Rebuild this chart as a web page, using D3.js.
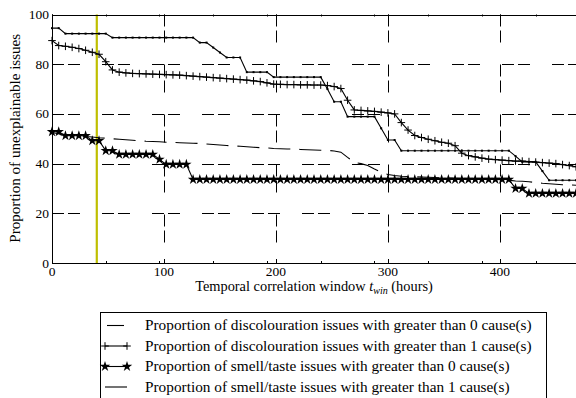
<!DOCTYPE html>
<html>
<head>
<meta charset="utf-8">
<script src="https://cdn.jsdelivr.net/npm/d3@7/dist/d3.min.js"></script>
<style>
  body { margin: 0; background: #fff; }
  svg { display: block; }
  text { font-family: "Liberation Serif", "DejaVu Serif", serif; fill: #000; }
</style>
</head>
<body>
<svg width="576" height="398"></svg>
<script>
// sample times (hours)
const hours = [0,6,12,18,24,30,36,42,48,54,60,66,72,78,84,90,96,102,108,114,120,126,132,138,144,150,156,162,168,174,180,186,192,198,204,210,216,222,228,234,240,246,252,258,264,270,276,282,288,294,300,306,312,318,324,330,336,342,348,354,360,366,372,378,384,390,396,402,408,414,420,426,432,438,444,450,456,462,468];

// discolouration, > 0 cause(s)
const discol0 = [52.5,52,51.7,51.4,51.1,50.9,50.7,50.4,50.2,50,49.8,49.6,49.4,49.2,49,48.9,48.8,48.6,48.5,48.4,48.3,48.2,48.1,47.9,47.7,47.5,47.3,47.1,47,46.8,46.6,46.4,46.3,46.1,46,45.9,45.8,45.7,45.6,45.5,45.4,45.3,45.1,44.6,42.5,40.5,40,39.2,37.8,36.5,35.6,35.2,34.9,34.8,34.7,34.6,34.5,34.4,34.3,34.2,34.1,34,34,33.9,33.8,33.7,33.6,33.5,33.3,33,32.9,32.7,32.4,32.1,31.9,31.7,31.5,31.4,31.3];

// discolouration, > 1 cause(s)
const discol1 = [89.5,87.5,87.2,86.8,86.3,85.6,84.8,84,81,77.7,76.8,76.5,76.3,76.2,76.1,76,75.9,75.8,75.7,75.6,75.4,75.2,75,74.8,74.6,74.4,74.2,74,73.8,73.6,73.3,73,72.5,72,71.9,71.8,71.8,71.7,71.7,71.6,71.6,71.4,71,70.2,65.5,61.6,61.4,61.2,61,60.7,60.4,60,56.5,53.5,51.3,50.5,49.8,49.2,48.6,48.2,47.2,44.2,43.2,42.7,42.2,41.8,41.6,41.4,41.2,41,41,40.8,40.6,40.4,40.2,40,39.6,39.2,38.7];

// smell/taste, > 0 cause(s)
const smell0 = [52.8,52.8,51.2,51.2,51.2,51.2,49.2,49.2,45.2,45.2,43.7,43.7,43.7,43.7,43.7,43.7,41.7,39.7,39.7,39.7,39.7,33.6,33.6,33.6,33.6,33.6,33.6,33.6,33.6,33.6,33.6,33.6,33.6,33.6,33.6,33.6,33.6,33.6,33.6,33.6,33.6,33.6,33.6,33.6,33.6,33.6,33.6,33.6,33.6,33.6,33.6,33.6,33.6,33.6,33.6,33.6,33.6,33.6,33.6,33.6,33.6,33.6,33.6,33.6,33.6,33.6,33.6,33.6,33.6,30,30,28,28,28,28,28,28,28,28];

// smell/taste, > 1 cause(s)
const smell1 = [94.5,94.5,92.3,92.3,92.3,92.3,92.3,92.3,92.3,90.7,90.7,90.7,90.7,90.7,90.7,90.7,90.7,90.7,90.7,90.7,90.7,90.7,88.7,88.7,86.7,84.7,82.7,82.7,82.7,76.8,76.8,76.8,76.8,74.8,74.8,74.8,74.8,74.8,74.8,74.8,74.8,70,64.9,64.9,58.9,58.9,58.9,58.9,58.9,54.2,49.5,49.5,45.2,45.2,45.2,45.2,45.2,45.2,45.2,45.2,45.2,45.2,45.2,45.2,45.2,45.2,45.2,45.2,45.2,43,40.7,40.7,40.7,37,33.3,33.3,33.3,33.3,33.3];

const xTicks = [0, 100, 200, 300, 400];
const xMinorTicks = [0, 48, 96, 144, 192, 240, 288, 336, 384, 432];
const yTicks = [0, 20, 40, 60, 80, 100];
const windowMark = 40;

const legendLabels = [
  "Proportion of discolouration issues with greater than 0 cause(s)",
  "Proportion of discolouration issues with greater than 1 cause(s)",
  "Proportion of smell/taste issues with greater than 0 cause(s)",
  "Proportion of smell/taste issues with greater than 1 cause(s)"
];

const series = [
  { values: discol0, dash: "22,9", marker: null },
  { values: discol1, dash: null, marker: "plus" },
  { values: smell0, dash: null, marker: "star" },
  { values: smell1, dash: null, marker: "dot" }
];

const svg = d3.select("svg");
const plotL = 52, plotR = 576, plotT = 14.5, plotB = 263;

const x = d3.scaleLinear().domain([0, 468]).range([plotL, plotR]);
const y = d3.scaleLinear().domain([0, 100]).range([plotB, plotT]);

// scale a text's font so that it spans the width seen in the figure
function fitWidth(sel, base, target) {
  const w = sel.node().getComputedTextLength();
  const fs = base * target / w;
  sel.attr("font-size", fs);
  return fs;
}

// grid
const grid = svg.append("g").attr("stroke", "#000").attr("stroke-width", 1)
  .attr("stroke-dasharray", "12,4,12,22").attr("fill", "none");
grid.selectAll(".gx").data(xTicks.slice(1)).enter().append("line")
  .attr("x1", d => Math.round(x(d)) + 0.5).attr("x2", d => Math.round(x(d)) + 0.5)
  .attr("y1", plotT).attr("y2", plotB);
grid.selectAll(".gy").data(yTicks.slice(1, -1)).enter().append("line")
  .attr("y1", d => Math.round(y(d)) + 0.5).attr("y2", d => Math.round(y(d)) + 0.5)
  .attr("x1", plotL).attr("x2", plotR);

// vertical marker for chosen window
svg.append("line")
  .attr("x1", x(windowMark)).attr("x2", x(windowMark))
  .attr("y1", plotT).attr("y2", plotB)
  .attr("stroke", "#bfbf00").attr("stroke-width", 2.2);

// series
const line = d3.line().x((d, i) => x(hours[i])).y(d => y(d));
const starPath = d3.symbol().type(d3.symbolStar).size(34)();

function drawMarker(g, type) {
  if (type === "plus") {
    g.append("path").attr("d", "M-3.8,0H3.8M0,-3.8V3.8")
      .attr("stroke", "#000").attr("stroke-width", 1).attr("fill", "none");
  } else if (type === "star") {
    g.append("path").attr("d", starPath).attr("fill", "#000");
  } else if (type === "dot") {
    g.append("rect").attr("x", -1).attr("y", -1).attr("width", 2).attr("height", 2).attr("fill", "#000");
  }
}

series.forEach(s => {
  svg.append("path")
    .datum(s.values)
    .attr("d", line)
    .attr("fill", "none")
    .attr("stroke", "#000")
    .attr("stroke-width", 1.1)
    .attr("stroke-dasharray", s.dash);
  if (s.marker) {
    svg.append("g").selectAll("g").data(s.values).enter().append("g")
      .attr("transform", (d, i) => `translate(${x(hours[i])},${y(d)})`)
      .each(function() { drawMarker(d3.select(this), s.marker); });
  }
});

// frame and ticks
const frame = svg.append("g").attr("stroke", "#000").attr("stroke-width", 1).attr("fill", "none");
frame.append("line").attr("x1", plotL + 0.5).attr("x2", plotL + 0.5).attr("y1", plotT).attr("y2", plotB);
frame.append("line").attr("x1", plotL).attr("x2", plotR).attr("y1", Math.round(plotT) + 0.5).attr("y2", Math.round(plotT) + 0.5);
frame.append("line").attr("x1", plotL).attr("x2", plotR).attr("y1", Math.round(plotB) + 0.5).attr("y2", Math.round(plotB) + 0.5);

xTicks.forEach(t => {
  const px = Math.round(x(t)) + 0.5;
  frame.append("line").attr("x1", px).attr("x2", px).attr("y1", plotB).attr("y2", plotB - 4);
  frame.append("line").attr("x1", px).attr("x2", px).attr("y1", plotT).attr("y2", plotT + 4);
});
xMinorTicks.forEach(t => {
  const px = Math.round(x(t)) + 0.5;
  frame.append("line").attr("x1", px).attr("x2", px).attr("y1", plotB).attr("y2", plotB - 2);
  frame.append("line").attr("x1", px).attr("x2", px).attr("y1", plotT).attr("y2", plotT + 2);
});
yTicks.forEach(t => {
  const py = Math.round(y(t)) + 0.5;
  frame.append("line").attr("x1", plotL).attr("x2", plotL + 4).attr("y1", py).attr("y2", py);
});

// tick labels
svg.append("g").selectAll("text").data(xTicks).enter().append("text")
  .attr("x", d => x(d)).attr("y", 276)
  .attr("text-anchor", "middle").attr("font-size", 13.5)
  .text(d => d);
svg.append("g").selectAll("text").data(yTicks).enter().append("text")
  .attr("x", 49).attr("y", d => y(d) + 4.5)
  .attr("text-anchor", "end").attr("font-size", 13.5)
  .text(d => d);

// axis titles
const xl = svg.append("text").attr("x", 314).attr("y", 291)
  .attr("text-anchor", "middle").attr("font-size", 13.5);
xl.append("tspan").text("Temporal correlation window ");
xl.append("tspan").attr("font-style", "italic").text("t");
const sub = xl.append("tspan").attr("font-style", "italic").attr("font-size", 9.5).attr("dy", 2.5).text("win");
xl.append("tspan").attr("dy", -2.5).text(" (hours)");
const xfs = fitWidth(xl, 13.5, 238);
sub.attr("font-size", xfs * 0.7);

const yl = svg.append("text")
  .attr("transform", `translate(20,${(plotT + plotB) / 2 - 0.5}) rotate(-90)`)
  .attr("text-anchor", "middle").attr("font-size", 13.5)
  .text("Proportion of unexplainable issues");
fitWidth(yl, 13.5, 209);

// legend
const lg = svg.append("g");
lg.append("rect").attr("x", 100.5).attr("y", 312.5).attr("width", 446).attr("height", 100)
  .attr("fill", "#fff").attr("stroke", "#000").attr("stroke-width", 1);
const rowY = [325.5, 346, 366.5, 387];
const legTexts = [];
series.forEach((s, i) => {
  const gy = rowY[i];
  if (s.dash) {
    lg.append("line").attr("x1", 107).attr("x2", 124).attr("y1", gy).attr("y2", gy)
      .attr("stroke", "#000").attr("stroke-width", 1.1);
  } else {
    lg.append("line").attr("x1", 105).attr("x2", 127).attr("y1", gy).attr("y2", gy)
      .attr("stroke", "#000").attr("stroke-width", 1.1);
  }
  if (s.marker && s.marker !== "dot") {
    [105, 127].forEach(mx => {
      const g = lg.append("g").attr("transform", `translate(${mx},${gy})`);
      drawMarker(g, s.marker);
    });
  }
  legTexts.push(lg.append("text").attr("x", 145).attr("y", gy + 4.5).attr("font-size", 13.5).text(legendLabels[i]));
});
const lfs = fitWidth(legTexts[0], 13.5, 387);
legTexts.forEach(t => t.attr("font-size", lfs));
</script>
</body>
</html>
